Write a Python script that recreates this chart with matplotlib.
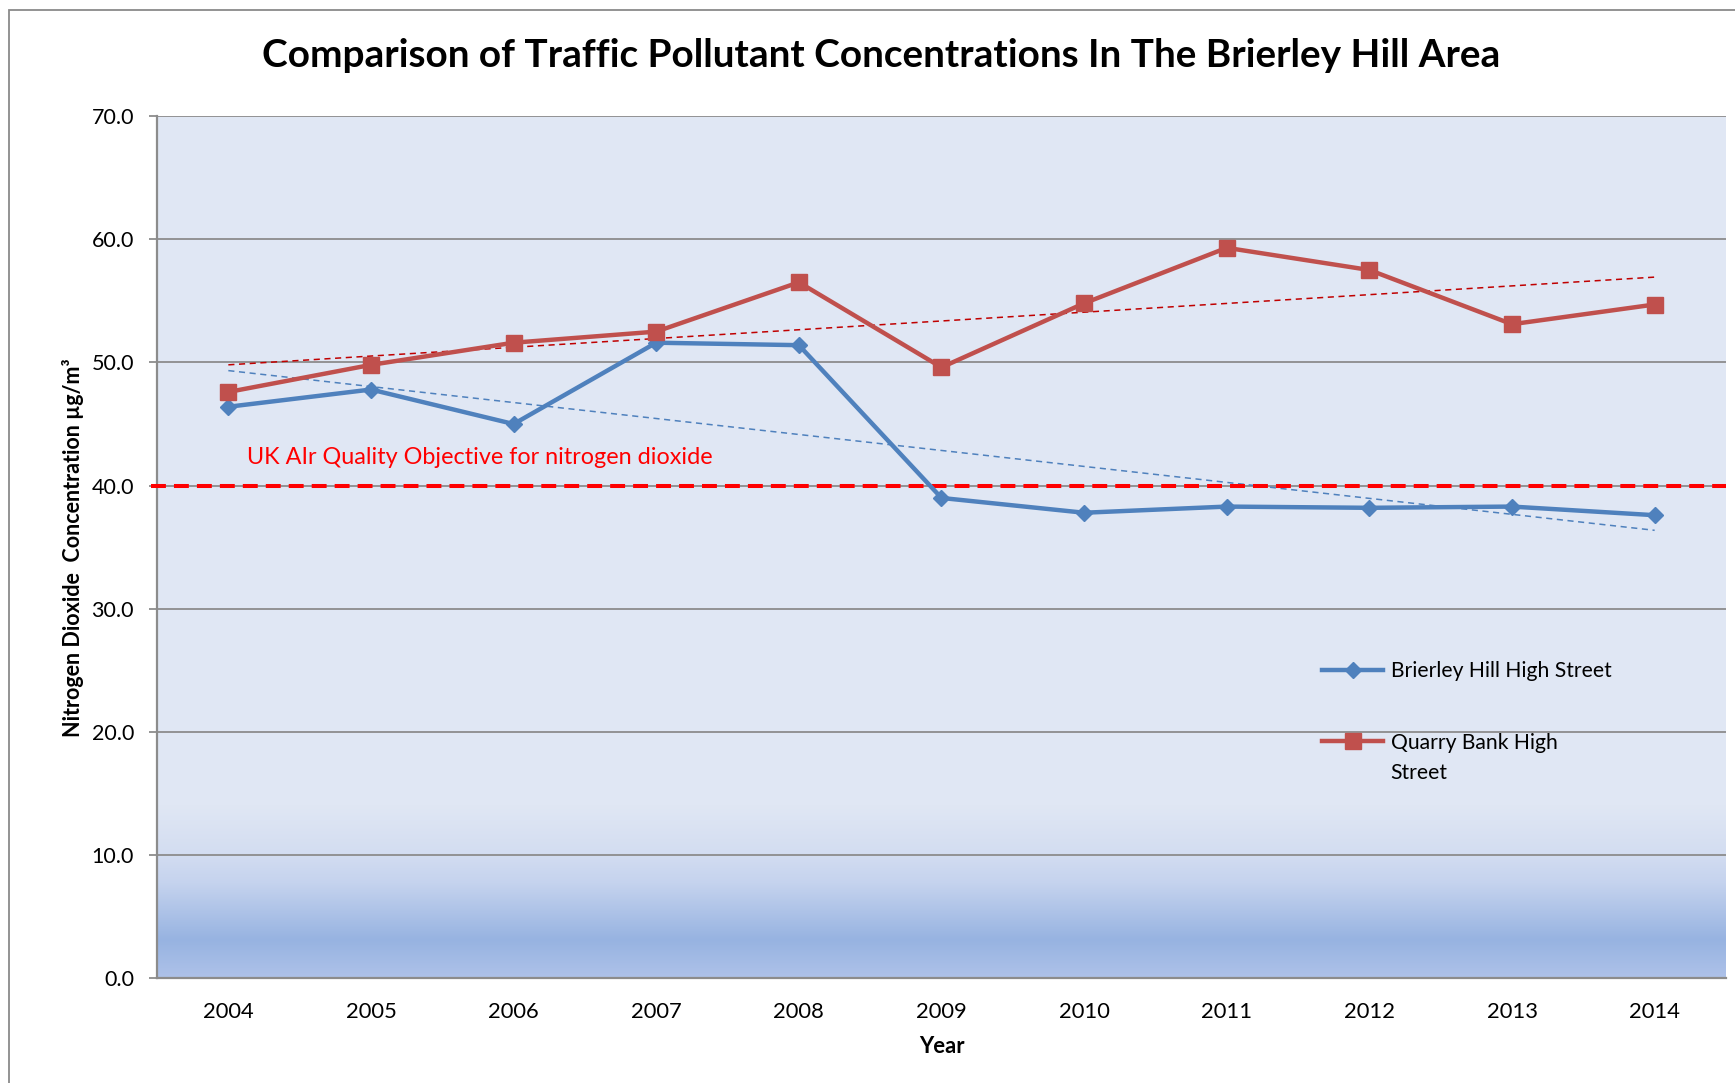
"""Brierley Hill NO2 comparison chart."""

import matplotlib
matplotlib.use("Agg")
import matplotlib.pyplot as plt
import numpy as np
from matplotlib.colors import LinearSegmentedColormap
from matplotlib.patches import Rectangle

plt.rcParams["font.family"] = ["Lato", "DejaVu Sans"]

years = ["2004", "2005", "2006", "2007", "2008", "2009", "2010", "2011", "2012", "2013", "2014"]
brierley = [46.4, 47.8, 45.0, 51.6, 51.4, 39.0, 37.8, 38.3, 38.2, 38.3, 37.6]
quarry = [47.6, 49.8, 51.6, 52.5, 56.5, 49.6, 54.8, 59.3, 57.5, 53.1, 54.7]
objective = 40.0

BLUE = "#4F81BD"
RED = "#C0504D"
GRID = "#8C8C8C"

x = np.arange(len(years))

fig = plt.figure(figsize=(17.35, 10.83), dpi=100)
ax = fig.add_axes([0.0905, 0.0965, 0.9043, 0.7964])
ax.set_facecolor("#E0E7F4")

# outer chart frame
fig.patches.append(Rectangle((0.0052, -0.05), 1.2, 1.0408, transform=fig.transFigure,
                             fill=False, edgecolor="#8A8A8A", linewidth=1.3))

# gradient towards the bottom of the plot area
cmap = LinearSegmentedColormap.from_list(
    "bg", [(0.0, "#AEC2E9"), (0.22, "#97B3E1"), (0.55, "#C5D3EE"), (0.72, "#D3DDF1"), (1.0, "#E0E7F4")])
grad = np.linspace(0, 1, 256).reshape(-1, 1)
ax.imshow(grad, extent=[-0.5, len(years) - 0.5, 0, 14], origin="lower", aspect="auto",
          cmap=cmap, zorder=0)

ax.set_axisbelow(True)
ax.yaxis.grid(True, color=GRID, linewidth=1.3)

ax.plot(x, brierley, color=BLUE, linewidth=3.2, marker="D", markersize=8,
        label="Brierley Hill High Street", zorder=4)
ax.plot(x, quarry, color=RED, linewidth=3.2, marker="s", markersize=12,
        label="Quarry Bank High", zorder=4)

# linear trendlines
for ys, c in [(brierley, "#4F81BD"), (quarry, "#C00000")]:
    k, b = np.polyfit(x, ys, 1)
    ax.plot(x, k * x + b, color=c, linewidth=1.1, dashes=(4, 3), zorder=3)

ax.plot([-0.004, 1.0], [objective, objective], transform=ax.get_yaxis_transform(),
        color="#FF0000", linewidth=2.9, dashes=(3.7, 2.0), clip_on=False, zorder=3)
ax.text(0.13, 42.3, "UK AIr Quality Objective for nitrogen dioxide", color="#FF0000",
        fontsize=16.8, va="center", ha="left")

ax.set_xlim(-0.5, len(years) - 0.5)
ax.set_ylim(0, 70)
ax.set_xticks(x)
ax.set_xticklabels(years)
ax.set_yticks(np.arange(0, 71, 10))
ax.set_yticklabels([f"{v:.1f}" for v in np.arange(0, 71, 10)])
ax.tick_params(axis="x", length=0, pad=17, labelsize=15.8)
ax.tick_params(axis="y", length=6, width=1.3, color=GRID, pad=10.5, labelsize=15.5)

for s in ["top", "right"]:
    ax.spines[s].set_visible(False)
for s in ["left", "bottom"]:
    ax.spines[s].set_color(GRID)
    ax.spines[s].set_linewidth(1.6)

ax.set_xlabel("Year", fontsize=15.8, fontweight="bold", va="center")
ax.xaxis.set_label_coords(0.5, -0.079)
ax.set_ylabel("Nitrogen Dioxide  Concentration µg/m³", fontsize=15.5, fontweight="bold", va="center")
ax.yaxis.set_label_coords(-0.0535, 0.5)

fig.text(0.508, 0.949, "Comparison of Traffic Pollutant Concentrations In The Brierley Hill Area",
         fontsize=27.9, fontweight="bold", ha="center", va="center")

leg = ax.legend(loc="center left", bbox_to_anchor=(0.7425, 0.315), frameon=False,
                fontsize=15.2, handlelength=2.9, handletextpad=0.35, labelspacing=2.45,
                borderpad=0, borderaxespad=0)
ax.text(0.786, 0.2387, "Street", transform=ax.transAxes, fontsize=15.2, va="center", ha="left")

fig.savefig("out.png", dpi=100)
